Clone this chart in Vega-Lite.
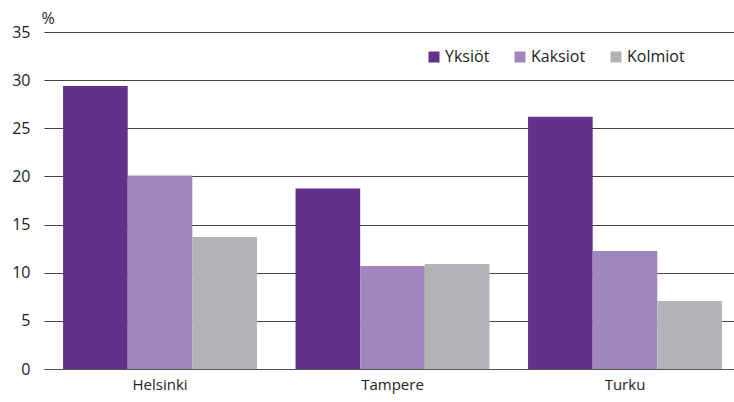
{
  "$schema": "https://vega.github.io/schema/vega-lite/v6.json",
  "autosize": "none",
  "width": 697,
  "height": 337,
  "padding": {"left": 44, "top": 32, "right": 0, "bottom": 33},
  "background": "white",
  "config": {
    "font": "Open Sans",
    "view": {"stroke": null}
  },
  "data": {
    "values": [
      {"city": "Helsinki", "type": "Yksiöt", "value": 29.4},
      {"city": "Helsinki", "type": "Kaksiot", "value": 20.1},
      {"city": "Helsinki", "type": "Kolmiot", "value": 13.7},
      {"city": "Tampere", "type": "Yksiöt", "value": 18.75},
      {"city": "Tampere", "type": "Kaksiot", "value": 10.7},
      {"city": "Tampere", "type": "Kolmiot", "value": 10.9},
      {"city": "Turku", "type": "Yksiöt", "value": 26.2},
      {"city": "Turku", "type": "Kaksiot", "value": 12.25},
      {"city": "Turku", "type": "Kolmiot", "value": 7.05}
    ]
  },
  "mark": {"type": "bar"},
  "encoding": {
    "x": {
      "field": "city",
      "type": "nominal",
      "sort": ["Helsinki", "Tampere", "Turku"],
      "scale": {"paddingInner": 0.166, "paddingOuter": 0.082},
      "axis": {
        "title": null,
        "labelAngle": 0,
        "ticks": false,
        "domainColor": "#555555",
        "domainWidth": 1,
        "labelFontSize": 15,
        "labelColor": "#222222",
        "labelPadding": 8
      }
    },
    "xOffset": {
      "field": "type",
      "type": "nominal",
      "sort": ["Yksiöt", "Kaksiot", "Kolmiot"],
      "scale": {"paddingInner": 0, "paddingOuter": 0}
    },
    "y": {
      "field": "value",
      "type": "quantitative",
      "scale": {"domain": [0, 35]},
      "axis": {
        "values": [0, 5, 10, 15, 20, 25, 30, 35],
        "title": "%",
        "titleAngle": 0,
        "titleAlign": "left",
        "titleBaseline": "bottom",
        "titleX": -3,
        "titleY": -6,
        "titleFontSize": 16,
        "titleFontWeight": "normal",
        "titleColor": "#222222",
        "domain": false,
        "ticks": false,
        "labelPadding": 14,
        "labelFontSize": 16,
        "labelColor": "#222222",
        "gridColor": "#444444",
        "gridWidth": 1,
        "gridOpacity": 1
      }
    },
    "color": {
      "field": "type",
      "type": "nominal",
      "sort": ["Yksiöt", "Kaksiot", "Kolmiot"],
      "scale": {
        "domain": ["Yksiöt", "Kaksiot", "Kolmiot"],
        "range": ["#63318A", "#A186BE", "#B1B3B6"]
      },
      "legend": {
        "title": null,
        "orient": "none",
        "direction": "horizontal",
        "legendX": 382,
        "legendY": 17,
        "symbolType": "square",
        "symbolSize": 121,
        "symbolStrokeWidth": 0,
        "labelFontSize": 16,
        "labelColor": "#222222",
        "labelOffset": 3,
        "columnPadding": 22
      }
    }
  }
}
